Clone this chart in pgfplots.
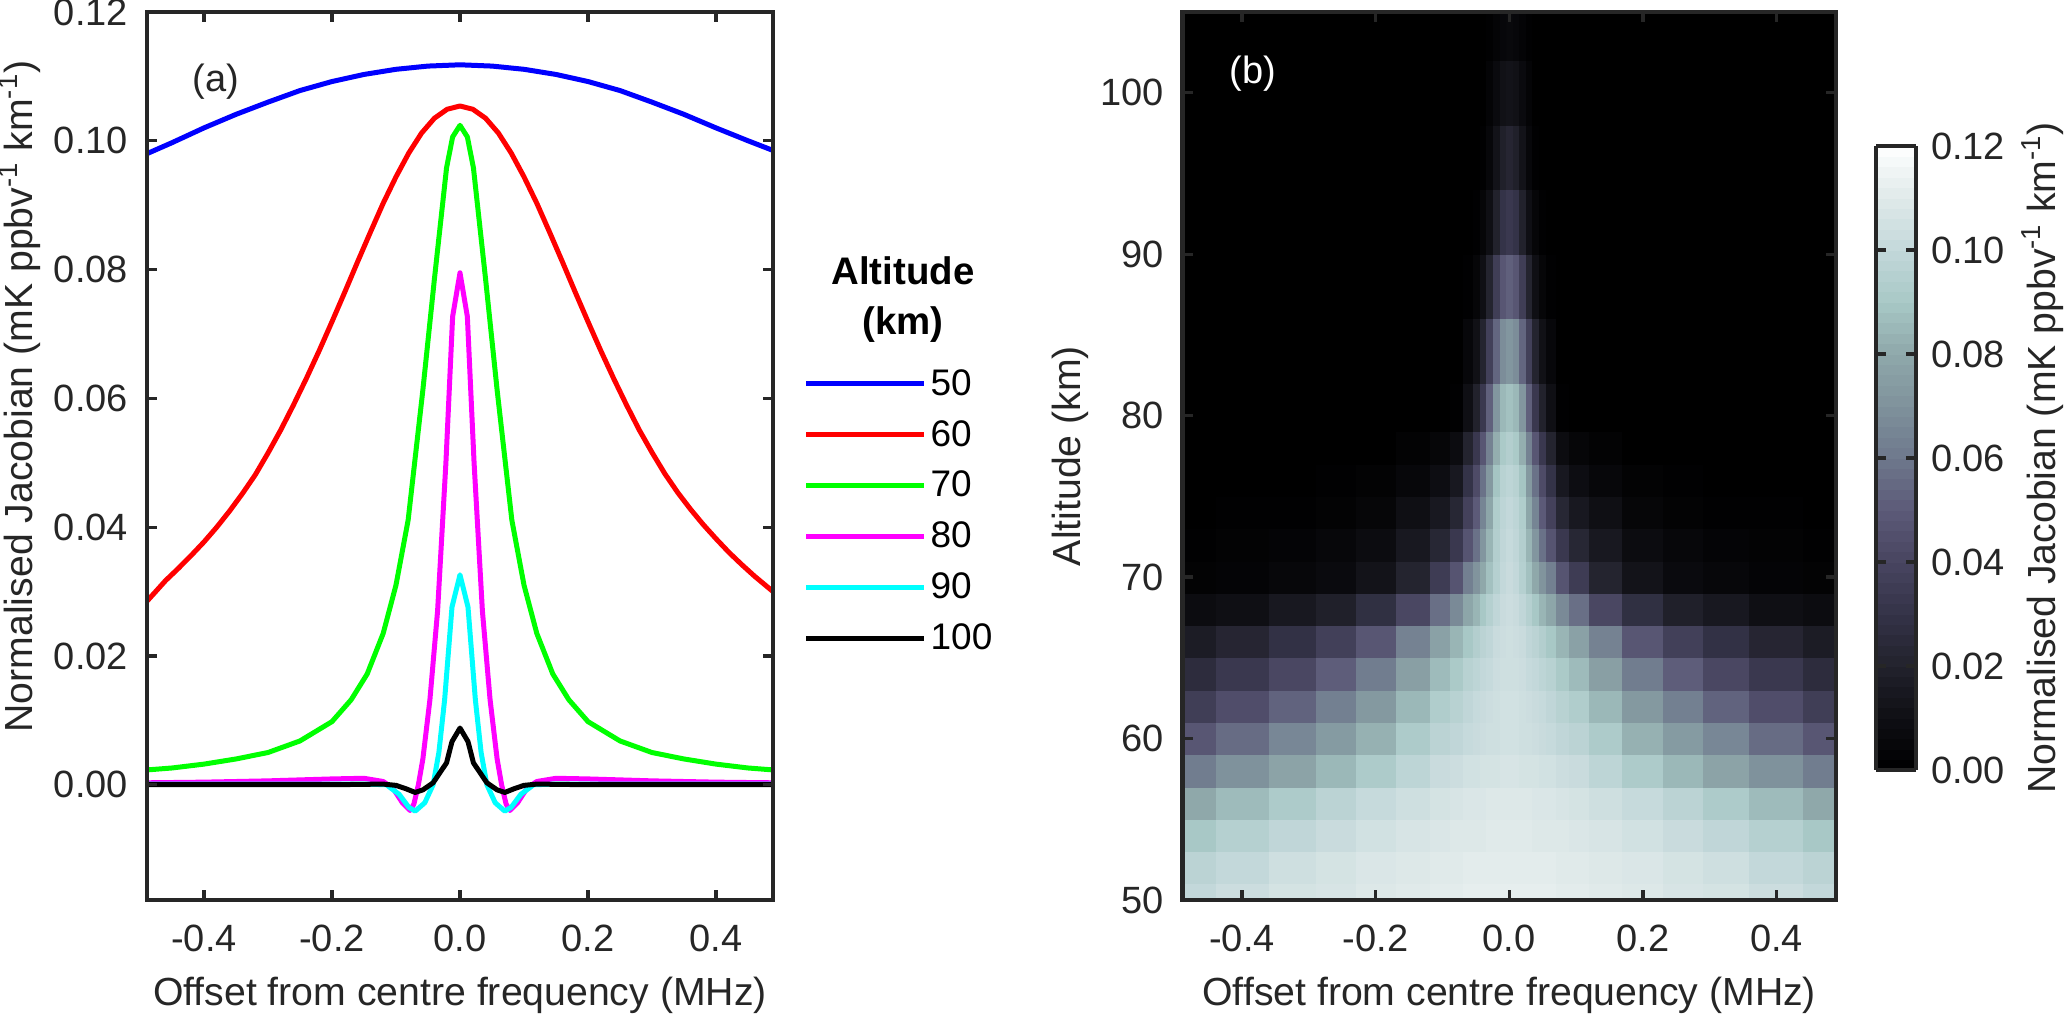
\documentclass[border=0pt]{standalone}
\usepackage{fontspec}
\setmainfont{Liberation Sans}
\usepackage{pgfplots}
\usepackage{pgfplotstable}
\pgfplotsset{compat=1.18}
\definecolor{axcol}{HTML}{262626}
\definecolor{mag}{RGB}{255,0,255}
\definecolor{cya}{RGB}{0,255,255}
\definecolor{gre}{RGB}{0,255,0}

% half of panel b, c in 0.001 mK/ppbv/km; other half is the mirror image
\pgfplotstableread[row sep=crcr]{
x y c\\
0.0001 50 112\\0.01 50 112\\0.02 50 112\\0.03 50 112\\0.04 50 112\\0.05 50 112\\0.06 50 112\\0.08 50 111\\0.10 50 111\\0.14 50 110\\0.20 50 109\\0.26 50 107\\0.32 50 106\\0.40 50 103\\0.48 50 100\\
0.0001 52 111\\0.01 52 111\\0.02 52 111\\0.03 52 111\\0.04 52 111\\0.05 52 111\\0.06 52 111\\0.08 52 110\\0.10 52 110\\0.14 52 109\\0.20 52 108\\0.26 52 106\\0.32 52 104\\0.40 52 100\\0.48 52 97\\
0.0001 54 110\\0.01 54 110\\0.02 54 110\\0.03 54 110\\0.04 54 109\\0.05 54 109\\0.06 54 109\\0.08 54 109\\0.10 54 108\\0.14 54 107\\0.20 54 105\\0.26 54 102\\0.32 54 99\\0.40 54 95\\0.48 54 90\\
0.0001 56 109\\0.01 56 109\\0.02 56 109\\0.03 56 109\\0.04 56 108\\0.05 56 108\\0.06 56 108\\0.08 56 107\\0.10 56 106\\0.14 56 104\\0.20 56 101\\0.26 56 97\\0.32 56 92\\0.40 56 86\\0.48 56 80\\
0.0001 58 107\\0.01 58 107\\0.02 58 106\\0.03 58 106\\0.04 58 106\\0.05 58 105\\0.06 58 105\\0.08 58 103\\0.10 58 102\\0.14 58 98\\0.20 58 92\\0.26 58 85\\0.32 58 78\\0.40 58 70\\0.48 58 62\\
0.0001 60 105\\0.01 60 105\\0.02 60 104\\0.03 60 104\\0.04 60 103\\0.05 60 102\\0.06 60 101\\0.08 60 99\\0.10 60 97\\0.14 60 92\\0.20 60 83\\0.26 60 74\\0.32 60 66\\0.40 60 56\\0.48 60 48\\
0.0001 62 105\\0.01 62 105\\0.02 62 104\\0.03 62 103\\0.04 62 102\\0.05 62 101\\0.06 62 99\\0.08 62 96\\0.10 62 93\\0.14 62 85\\0.20 62 73\\0.26 62 63\\0.32 62 53\\0.40 62 44\\0.48 62 36\\
0.0001 64 104\\0.01 64 104\\0.02 64 103\\0.03 64 101\\0.04 64 100\\0.05 64 98\\0.06 64 96\\0.08 64 91\\0.10 64 86\\0.14 64 76\\0.20 64 62\\0.26 64 51\\0.32 64 41\\0.40 64 33\\0.48 64 26\\
0.0001 66 104\\0.01 66 103\\0.02 66 102\\0.03 66 99\\0.04 66 97\\0.05 66 94\\0.06 66 90\\0.08 66 84\\0.10 66 77\\0.14 66 64\\0.20 66 48\\0.26 66 37\\0.32 66 29\\0.40 66 22\\0.48 66 17\\
0.0001 68 103\\0.01 68 102\\0.02 68 99\\0.03 68 95\\0.04 68 90\\0.05 68 84\\0.06 68 79\\0.08 68 67\\0.10 68 57\\0.14 68 41\\0.20 68 28\\0.26 68 19\\0.32 68 15\\0.40 68 10\\0.48 68 8\\
0.0001 70 102\\0.01 70 100\\0.02 70 95\\0.03 70 88\\0.04 70 80\\0.05 70 71\\0.06 70 63\\0.08 70 47\\0.10 70 35\\0.14 70 21\\0.20 70 12\\0.26 70 7\\0.32 70 5\\0.40 70 3\\0.48 70 2\\
0.0001 72 101\\0.01 72 99\\0.02 72 94\\0.03 72 84\\0.04 72 72\\0.05 72 58\\0.06 72 47\\0.08 72 33\\0.10 72 23\\0.14 72 15\\0.20 72 8\\0.26 72 5\\0.32 72 3\\0.40 72 2\\0.48 72 1\\
0.0001 74 100\\0.01 74 98\\0.02 74 93\\0.03 74 79\\0.04 74 65\\0.05 74 50\\0.06 74 38\\0.08 74 23\\0.10 74 15\\0.14 74 10\\0.20 74 4\\0.26 74 2\\0.32 74 1\\0.40 74 1\\0.48 74 0.1\\
0.0001 76 98\\0.01 76 96\\0.02 76 89\\0.03 76 73\\0.04 76 58\\0.05 76 43\\0.06 76 30\\0.08 76 15\\0.10 76 9\\0.14 76 5\\0.20 76 2\\0.26 76 1\\0.32 76 0.1\\0.40 76 0.1\\0.48 76 0.1\\
0.0001 78 94\\0.01 78 91\\0.02 78 82\\0.03 78 64\\0.04 78 48\\0.05 78 33\\0.06 78 21\\0.08 78 8\\0.10 78 4\\0.14 78 2\\0.20 78 0.1\\0.26 78 0.1\\0.32 78 0.1\\0.40 78 0.1\\0.48 78 0.1\\
0.0001 80 88\\0.01 80 85\\0.02 80 72\\0.03 80 52\\0.04 80 33\\0.05 80 20\\0.06 80 10\\0.08 80 1\\0.10 80 0.1\\0.14 80 0.1\\0.20 80 0.1\\0.26 80 0.1\\0.32 80 0.1\\0.40 80 0.1\\0.48 80 0.1\\
0.0001 84 72\\0.01 84 68\\0.02 84 54\\0.03 84 37\\0.04 84 21\\0.05 84 11\\0.06 84 5\\0.08 84 0.1\\0.10 84 0.1\\0.14 84 0.1\\0.20 84 0.1\\0.26 84 0.1\\0.32 84 0.1\\0.40 84 0.1\\0.48 84 0.1\\
0.0001 88 52\\0.01 88 48\\0.02 88 36\\0.03 88 21\\0.04 88 10\\0.05 88 4\\0.06 88 1\\0.08 88 0.1\\0.10 88 0.1\\0.14 88 0.1\\0.20 88 0.1\\0.26 88 0.1\\0.32 88 0.1\\0.40 88 0.1\\0.48 88 0.1\\
0.0001 92 33\\0.01 92 30\\0.02 92 20\\0.03 92 10\\0.04 92 4\\0.05 92 1\\0.06 92 0.1\\0.08 92 0.1\\0.10 92 0.1\\0.14 92 0.1\\0.20 92 0.1\\0.26 92 0.1\\0.32 92 0.1\\0.40 92 0.1\\0.48 92 0.1\\
0.0001 96 22\\0.01 96 19\\0.02 96 12\\0.03 96 5\\0.04 96 1\\0.05 96 0.1\\0.06 96 0.1\\0.08 96 0.1\\0.10 96 0.1\\0.14 96 0.1\\0.20 96 0.1\\0.26 96 0.1\\0.32 96 0.1\\0.40 96 0.1\\0.48 96 0.1\\
0.0001 100 12\\0.01 100 11\\0.02 100 7\\0.03 100 3\\0.04 100 0.1\\0.05 100 0.1\\0.06 100 0.1\\0.08 100 0.1\\0.10 100 0.1\\0.14 100 0.1\\0.20 100 0.1\\0.26 100 0.1\\0.32 100 0.1\\0.40 100 0.1\\0.48 100 0.1\\
0.0001 104 6\\0.01 104 5\\0.02 104 3\\0.03 104 1\\0.04 104 0.1\\0.05 104 0.1\\0.06 104 0.1\\0.08 104 0.1\\0.10 104 0.1\\0.14 104 0.1\\0.20 104 0.1\\0.26 104 0.1\\0.32 104 0.1\\0.40 104 0.1\\0.48 104 0.1\\
}\jac

\pgfplotsset{
  panel/.style={
    scale only axis,
    axis line style={draw=axcol,line width=2.2pt},
    tick style={draw=axcol,line width=1.6pt},
    tick align=inside,
    major tick length=5pt,
    axis on top,
    clip mode=individual,
    xmin=-0.489,xmax=0.489,
    xtick={-0.4,-0.2,0,0.2,0.4},
    x tick label style={yshift=-9pt,/pgf/number format/.cd,fixed,fixed zerofill,precision=1,assume math mode=true},
    tick label style={text=axcol,font=\fontsize{19}{23}\selectfont},
    label style={text=axcol,font=\fontsize{19.6}{23}\selectfont},
    xlabel={Offset from centre frequency (MHz)},
    x label style={at={(axis description cs:0.5,-0.107)},anchor=center},
  },
  colormap={jacmap}{rgb255=(0,0,0) rgb255=(15,15,20) rgb255=(34,34,44) rgb255=(52,51,72)
    rgb255=(72,69,96) rgb255=(92,90,120) rgb255=(110,120,140) rgb255=(127,146,156)
    rgb255=(143,168,170) rgb255=(168,200,198) rgb255=(195,216,218) rgb255=(224,234,234) rgb255=(255,255,255)},
}

\begin{document}
\begin{tikzpicture}
\useasboundingbox (-73.5pt,-58.5pt) rectangle ++(1033.5pt,508.5pt);

\begin{axis}[panel,at={(0pt,0pt)},anchor=south west,
  width=313pt,height=444pt,
  ymin=-0.0179,ymax=0.12,
  ytick={0,0.02,0.04,0.06,0.08,0.10,0.12},
  y tick label style={xshift=-6pt,/pgf/number format/.cd,fixed,fixed zerofill,precision=2,assume math mode=true},
  ylabel={Normalised Jacobian (mK ppbv\textsuperscript{-1} km\textsuperscript{-1})},
  y label style={at={(axis description cs:-0.203,0.567)},anchor=center},
  every axis plot/.append style={line width=2.5pt,line join=round,no markers},
  legend style={at={(1.049,0.602)},anchor=north west,draw=none,fill=none,
    inner sep=0pt,outer sep=0pt,font=\fontsize{18.5}{22}\selectfont,
    /tikz/every even column/.append style={column sep=5pt},
    /tikz/row sep=7pt},
  legend cell align=left,
  legend image code/.code={\draw[#1] (0pt,0pt) -- (59pt,0pt);},
]
\addplot[blue] coordinates {(-0.489,0.0980)(-0.45,0.0997)(-0.4,0.1020)(-0.35,0.1041)(-0.3,0.1060)(-0.25,0.1078)(-0.2,0.1092)(-0.15,0.1103)(-0.1,0.1111)(-0.05,0.1116)(0,0.1118)(0.05,0.1116)(0.1,0.1111)(0.15,0.1103)(0.2,0.1092)(0.25,0.1078)(0.3,0.1060)(0.35,0.1041)(0.4,0.1020)(0.45,0.1000)(0.489,0.0985)};
\addplot[red] coordinates {(-0.489,0.0285)(-0.46,0.0317)(-0.44,0.0336)(-0.42,0.0356)(-0.4,0.0377)(-0.38,0.0400)(-0.36,0.0425)(-0.34,0.0452)(-0.32,0.0481)(-0.3,0.0515)(-0.28,0.0551)(-0.26,0.0590)(-0.24,0.0631)(-0.22,0.0674)(-0.2,0.0719)(-0.18,0.0765)(-0.16,0.0812)(-0.14,0.0858)(-0.12,0.0903)(-0.1,0.0944)(-0.08,0.0981)(-0.06,0.1012)(-0.04,0.1035)(-0.02,0.1049)(0,0.1054)(0.02,0.1049)(0.04,0.1035)(0.06,0.1012)(0.08,0.0981)(0.1,0.0944)(0.12,0.0903)(0.14,0.0858)(0.16,0.0812)(0.18,0.0765)(0.2,0.0719)(0.22,0.0674)(0.24,0.0631)(0.26,0.0590)(0.28,0.0551)(0.3,0.0516)(0.32,0.0483)(0.34,0.0454)(0.36,0.0428)(0.38,0.0404)(0.4,0.0382)(0.42,0.0361)(0.44,0.0342)(0.46,0.0324)(0.489,0.0300)};
\addplot[gre] coordinates {(-0.489,0.0023)(-0.45,0.0026)(-0.4,0.0032)(-0.35,0.0040)(-0.3,0.0050)(-0.25,0.0068)(-0.2,0.0098)(-0.17,0.0132)(-0.145,0.0172)(-0.12,0.0235)(-0.1,0.0310)(-0.081,0.0411)(-0.058,0.0613)(-0.04,0.0785)(-0.021,0.0958)(-0.0115,0.1006)(0,0.1024)(0.0115,0.1006)(0.021,0.0958)(0.04,0.0785)(0.058,0.0613)(0.081,0.0411)(0.1,0.0310)(0.12,0.0235)(0.145,0.0172)(0.17,0.0132)(0.2,0.0098)(0.25,0.0068)(0.3,0.0050)(0.35,0.0040)(0.4,0.0032)(0.45,0.0026)(0.489,0.0023)};
\addplot[mag] coordinates {(-0.489,0.0003)(-0.4,0.0004)(-0.3,0.0006)(-0.2,0.0009)(-0.15,0.0010)(-0.12,0.0005)(-0.105,-0.0005)(-0.09,-0.0028)(-0.078,-0.0040)(-0.072,-0.0030)(-0.065,0)(-0.058,0.0040)(-0.047,0.0132)(-0.035,0.0270)(-0.022,0.0500)(-0.0115,0.0727)(0,0.0795)(0.0115,0.0727)(0.022,0.0500)(0.035,0.0270)(0.047,0.0132)(0.058,0.0040)(0.065,0)(0.072,-0.0030)(0.078,-0.0040)(0.09,-0.0028)(0.105,-0.0005)(0.12,0.0005)(0.15,0.0010)(0.2,0.0009)(0.3,0.0006)(0.4,0.0004)(0.489,0.0003)};
\addplot[cya] coordinates {(-0.489,0.0001)(-0.15,0.0001)(-0.115,0)(-0.095,-0.0015)(-0.08,-0.0035)(-0.07,-0.0041)(-0.055,-0.0028)(-0.042,0)(-0.033,0.0050)(-0.024,0.0132)(-0.0125,0.0276)(0,0.0326)(0.0125,0.0276)(0.024,0.0132)(0.033,0.0050)(0.042,0)(0.055,-0.0028)(0.07,-0.0041)(0.08,-0.0035)(0.095,-0.0015)(0.115,0)(0.15,0.0001)(0.489,0.0001)};
\addplot[black] coordinates {(-0.489,0)(-0.2,0)(-0.12,0.0001)(-0.1,-0.0001)(-0.085,-0.0006)(-0.07,-0.0012)(-0.058,-0.0008)(-0.042,0.0003)(-0.021,0.0034)(-0.0125,0.0067)(0,0.0088)(0.0125,0.0067)(0.021,0.0034)(0.042,0.0003)(0.058,-0.0008)(0.07,-0.0012)(0.085,-0.0006)(0.1,-0.0001)(0.12,0.0001)(0.2,0)(0.489,0)};
\legend{50,60,70,80,90,100}
\node[font=\fontsize{19}{23}\selectfont,text=axcol] at (rel axis cs:0.110,0.921) {(a)};
\end{axis}

\node[font=\fontsize{19.2}{25}\selectfont\bfseries,align=center] at (378pt,300pt) {Altitude\\(km)};

\begin{axis}[panel,at={(517.75pt,0pt)},anchor=south west,
  width=326.75pt,height=444pt,
  ymin=50,ymax=105,
  ytick={50,60,70,80,90,100},
  y tick label style={xshift=-6pt,/pgf/number format/assume math mode=true},
  ylabel={Altitude (km)},
  y label style={at={(axis description cs:-0.172,0.5)},anchor=center},
  axis background/.style={fill=black},
  colorbar sampled,
  point meta min=0,point meta max=120,
  colorbar style={
    samples=61,
    scale only axis,
    at={(parent axis.south west)},anchor=south west,xshift=338.25pt,yshift=65pt,
    width=20pt,height=312pt,
    axis line style={draw=axcol,line width=2.2pt},
    tick style={draw=axcol,line width=1.6pt},
    tick align=inside,
    major tick length=5pt,
    ytick={0,20,40,60,80,100,120},
    yticklabels={0.00,0.02,0.04,0.06,0.08,0.10,0.12},
    y tick label style={xshift=4pt},
    tick label style={text=axcol,font=\fontsize{19}{23}\selectfont},
    label style={text=axcol,font=\fontsize{19.6}{23}\selectfont},
    ylabel={Normalised Jacobian (mK ppbv\textsuperscript{-1} km\textsuperscript{-1})},
    y label style={at={(axis description cs:4.17,0.5)},anchor=center,rotate=0},
  },
]
\addplot[matrix plot*,mesh/cols=15,mesh/ordering=x varies,point meta=explicit]
  table[x=x,y=y,meta=c] {\jac};
\addplot[matrix plot*,mesh/cols=15,mesh/ordering=x varies,point meta=explicit]
  table[x expr=-\thisrow{x},y=y,meta=c] {\jac};
\node[font=\fontsize{19}{23}\selectfont,text=white] at (rel axis cs:0.108,0.931) {(b)};
\end{axis}
\end{tikzpicture}
\end{document}
